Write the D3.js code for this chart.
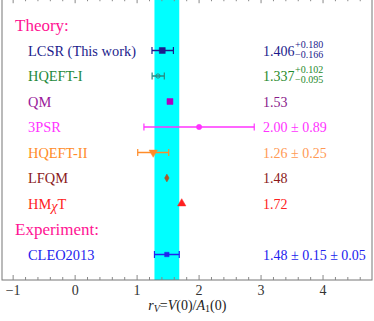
<!DOCTYPE html>
<html>
<head>
<meta charset="utf-8">
<script src="https://cdn.jsdelivr.net/npm/d3@7"></script>
<style>
  body { margin: 0; background: #fff; }
  svg text { font-family: "Liberation Serif", "Times New Roman", "DejaVu Serif", serif; }
</style>
</head>
<body>
<div id="chart"></div>
<script>
// rows of the plot, top to bottom
var labels = ["LCSR (This work)", "HQEFT-I", "QM", "3PSR", "HQEFT-II", "LFQM", "HMχT", "CLEO2013"];
var rows = [1, 2, 3, 4, 5, 6, 7, 9];
var values = [1.406, 1.337, 1.53, 2.00, 1.26, 1.48, 1.72, 1.48];
var errPlus = [0.180, 0.102, 0, 0.89, 0.25, 0, 0, 0.20];
var errMinus = [0.166, 0.095, 0, 0.89, 0.25, 0, 0, 0.20];
var valueText = ["1.406", "1.337", "1.53", "2.00 ± 0.89", "1.26 ± 0.25", "1.48", "1.72", "1.48 ± 0.15 ± 0.05"];
var supText = ["+0.180", "+0.102", "", "", "", "", "", ""];
var subText = ["−0.166", "−0.095", "", "", "", "", "", ""];
var headers = [["Theory:", 0], ["Experiment:", 8]];
var band = [1.28, 1.68];
var xTicks = [-1, 0, 1, 2, 3, 4];

var labelColors = ["#1c1c8c", "#1f8a3c", "#9a1a9a", "#ff33ff", "#ff8c28", "#8b1a1a", "#ff2222", "#2222ee"];
var markColors = ["#1c1c8c", "#2a8a80", "#b000c0", "#ff33ff", "#ff8c28", "#a8582a", "#ff2020", "#2222ee"];
var valueColors = ["#1c1c8c", "#1f8a2c", "#8a1a8a", "#ff33ff", "#ff9a55", "#8b1a1a", "#ff2222", "#2222ee"];
var shapes = ["square", "circleOpen", "square", "circle", "triDown", "diamond", "triUp", "smallSquare"];

var serif = "'Liberation Serif', 'Times New Roman', serif";
var width = 374, height = 321;
var x = d3.scaleLinear().domain([-1.18, 4.79]).range([2, 372]);
var y = d3.scaleLinear().domain([-1, 10]).range([-0.5, 280]);

var svg = d3.select("#chart").append("svg")
  .attr("width", width)
  .attr("height", height)
  .style("font-family", serif);

// cyan band (experiment)
svg.append("rect")
  .attr("x", x(band[0]))
  .attr("y", y(-1))
  .attr("width", x(band[1]) - x(band[0]))
  .attr("height", y(10) - y(-1))
  .attr("fill", "#00ffff");

// frame
svg.append("rect")
  .attr("x", x(-1.18))
  .attr("y", y(-1.05))
  .attr("width", x(4.79) - x(-1.18))
  .attr("height", y(10) - y(-1.05))
  .attr("fill", "none")
  .attr("stroke", "#777")
  .attr("stroke-width", 1);

// ticks, bottom and top, pointing inward
var minor = d3.range(-1.2, 4.81, 0.2).filter(function(v) { return v >= -1.18 && v <= 4.79; });
var axisB = svg.append("g").attr("transform", "translate(0," + y(10) + ")");
axisB.selectAll("line.minor").data(minor).enter().append("line")
  .attr("x1", d => x(d)).attr("x2", d => x(d))
  .attr("y1", 0).attr("y2", d => Math.abs(d - Math.round(d)) < 1e-6 ? -5 : -3)
  .attr("stroke", "#888");
axisB.selectAll("text").data(xTicks).enter().append("text")
  .attr("x", d => x(d))
  .attr("y", 15)
  .attr("text-anchor", "middle")
  .attr("font-size", 14)
  .attr("fill", "#333")
  .style("font-family", serif)
  .text(d => d < 0 ? "−" + Math.abs(d) : d);
var axisT = svg.append("g").attr("transform", "translate(0," + y(-1.05) + ")");
axisT.selectAll("line").data(minor).enter().append("line")
  .attr("x1", d => x(d)).attr("x2", d => x(d))
  .attr("y1", 0).attr("y2", d => Math.abs(d - Math.round(d)) < 1e-6 ? 5 : 3)
  .attr("stroke", "#888");

// axis title
var title = svg.append("text")
  .attr("x", x(1.81))
  .attr("y", 310)
  .attr("text-anchor", "middle")
  .attr("font-size", 14)
  .attr("fill", "#222")
  .style("font-family", serif);
title.append("tspan").attr("font-style", "italic").text("r");
title.append("tspan").attr("font-style", "italic").attr("font-size", 10).attr("dy", 2).text("V");
title.append("tspan").attr("dy", -2).text("=");
title.append("tspan").attr("font-style", "italic").text("V");
title.append("tspan").text("(0)/");
title.append("tspan").attr("font-style", "italic").text("A");
title.append("tspan").attr("font-size", 10).attr("dy", 2).text("1");
title.append("tspan").attr("dy", -2).text("(0)");

// section headers
svg.selectAll("text.header").data(headers).enter().append("text")
  .attr("class", "header")
  .attr("x", 15)
  .attr("y", d => y(d[1]) + 6)
  .attr("font-size", 17)
  .attr("fill", "#ff1493")
  .style("font-family", serif)
  .text(d => d[0]);

// row labels
labels.forEach(function(l, i) {
  var t = svg.append("text")
    .attr("x", 28)
    .attr("y", y(rows[i]) + 5)
    .attr("font-size", 14.4)
    .attr("fill", labelColors[i])
    .style("font-family", serif);
  if (l === "HMχT") {
    t.append("tspan").text("HM");
    t.append("tspan").attr("font-style", "italic").attr("dy", 2).text("χ");
    t.append("tspan").attr("dy", -2).text("T");
  } else {
    t.text(l);
  }
});

// error bars
var bars = svg.append("g");
values.forEach(function(v, i) {
  if (errPlus[i] === 0 && errMinus[i] === 0) return;
  var yy = y(rows[i]), c = markColors[i];
  var x0 = x(v - errMinus[i]), x1 = x(v + errPlus[i]);
  bars.append("line").attr("x1", x0).attr("x2", x1).attr("y1", yy).attr("y2", yy)
    .attr("stroke", c).attr("stroke-width", 1.5);
  [x0, x1].forEach(function(xc) {
    bars.append("line").attr("x1", xc).attr("x2", xc).attr("y1", yy - 3.5).attr("y2", yy + 3.5)
      .attr("stroke", c).attr("stroke-width", 1.2);
  });
});

// markers
var symbolTypes = {
  square: [d3.symbolSquare, 36, true],
  smallSquare: [d3.symbolSquare, 20, true],
  circle: [d3.symbolCircle, 22, true],
  circleOpen: [d3.symbolCircle, 14, false],
  triDown: [d3.symbolTriangle, 30, true],
  triUp: [d3.symbolTriangle, 30, true],
  diamond: [d3.symbolDiamond, 18, true]
};
values.forEach(function(v, i) {
  var s = symbolTypes[shapes[i]];
  var rot = shapes[i] === "triDown" ? 180 : 0;
  svg.append("path")
    .attr("d", d3.symbol().type(s[0]).size(s[1]))
    .attr("transform", "translate(" + x(v) + "," + y(rows[i]) + ") rotate(" + rot + ")")
    .attr("fill", s[2] ? markColors[i] : "none")
    .attr("stroke", markColors[i])
    .attr("stroke-width", s[2] ? 0.5 : 1);
});

// value texts on the right
valueText.forEach(function(t, i) {
  var g = svg.append("text")
    .attr("x", 263)
    .attr("y", y(rows[i]) + 5)
    .attr("font-size", 14)
    .attr("fill", valueColors[i])
    .style("font-family", serif);
  g.append("tspan").text(t);
  if (supText[i]) {
    var xs = 263 + g.node().getComputedTextLength() + 0.5;
    svg.append("text").attr("x", xs).attr("y", y(rows[i]) - 3)
      .attr("font-size", 10).attr("fill", valueColors[i]).style("font-family", serif).text(supText[i]);
    svg.append("text").attr("x", xs).attr("y", y(rows[i]) + 7)
      .attr("font-size", 10).attr("fill", valueColors[i]).style("font-family", serif).text(subText[i]);
  }
});
</script>
</body>
</html>
